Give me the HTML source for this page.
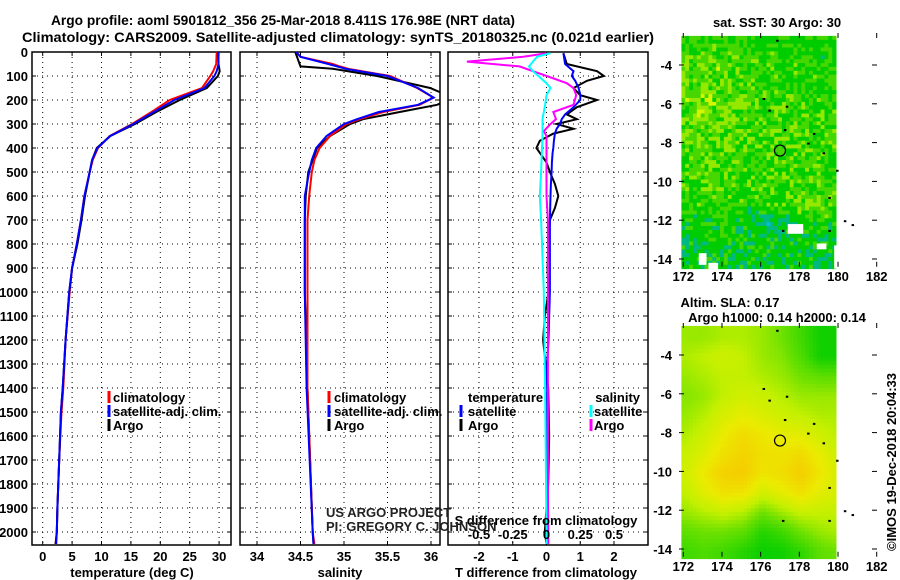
<!DOCTYPE html>
<html><head><meta charset="utf-8"><style>
body{margin:0;background:#fff;}
svg{display:block;font-family:"Liberation Sans",sans-serif;}
.b{font-weight:bold;font-size:13px;}
</style></head><body>
<svg id="c" width="900" height="580" viewBox="0 0 900 580">
<defs>
<clipPath id="cp1"><rect x="32" y="52" width="199" height="493"/></clipPath>
<clipPath id="cp2"><rect x="240" y="52" width="200" height="493"/></clipPath>
<clipPath id="cp3"><rect x="448" y="52" width="200" height="493"/></clipPath>
</defs>
<text x="283" y="25" text-anchor="middle" class="b" style="font-size:14px" textLength="464" lengthAdjust="spacingAndGlyphs">Argo profile: aoml 5901812_356 25-Mar-2018 8.411S 176.98E (NRT data)</text>
<text x="338" y="42" text-anchor="middle" class="b" style="font-size:14px" textLength="632" lengthAdjust="spacingAndGlyphs">Climatology: CARS2009. Satellite-adjusted climatology: synTS_20180325.nc (0.021d earlier)</text>
<g id="g"></g>
</svg>
<script>
// ---- data ----
const depthT = [0,50,80,100,150,200,250,300,350,400,450,500,600,700,800,900,1000,1200,1400,1500,1700,1900,2000,2050];
const tempArgo = [29.8,29.9,30.1,29.8,27.9,23.3,19.3,15.7,11.5,9.2,8.4,8.0,7.2,6.6,5.9,5.0,4.5,3.9,3.4,3.1,2.8,2.5,2.4,2.2];
const tempClim = [29.6,29.5,29.0,28.5,27.1,21.6,18.5,15.2,11.4,9.4,8.5,8.0,7.1,6.5,5.8,5.0,4.6,3.9,3.5,3.2,2.8,2.5,2.4,2.2];
const tempSat = [29.9,29.9,29.6,29.2,27.5,22.4,18.9,15.4,11.5,9.3,8.4,8.0,7.1,6.5,5.8,5.0,4.5,3.9,3.4,3.1,2.8,2.5,2.4,2.3];
const depthS = [0,20,50,60,70,100,150,190,220,250,280,300,350,400,450,500,600,700,1000,1400,2000,2050];
const salArgo = [34.44,34.46,34.49,34.50,34.87,35.38,35.99,36.25,36.07,35.64,35.22,35.07,34.84,34.69,34.64,34.59,34.56,34.55,34.55,34.58,34.64,34.65];
const salClim = [34.45,34.50,34.87,34.95,35.05,35.53,35.84,36.03,35.87,35.45,35.18,35.03,34.84,34.72,34.66,34.63,34.60,34.58,34.58,34.58,34.64,34.66];
const salSat = [34.45,34.50,34.82,34.92,35.02,35.50,35.85,36.03,35.85,35.40,35.15,35.00,34.80,34.68,34.63,34.60,34.55,34.55,34.55,34.57,34.64,34.65];
const depthD = [5,50,80,100,120,150,180,200,230,260,280,300,320,340,370,400,420,460,500,550,600,650,700,800,900,1000,1100,1200,1400,1600,1800,2000,2050];
const dTArgo = [0.5,0.6,1.5,1.7,1.2,0.8,1.0,1.5,0.9,0.6,0.9,0.3,0.8,0.2,-0.2,-0.3,-0.2,0.0,0.1,0.25,0.35,0.25,0.1,0.06,0.03,0.06,-0.05,-0.1,0.05,0.08,0.05,-0.05,0.0];
const dTSat = [0.5,0.55,0.8,0.75,0.85,0.95,1.0,1.0,0.8,0.55,0.45,0.4,0.3,0.25,0.22,0.2,0.18,0.16,0.15,0.13,0.12,0.11,0.1,0.1,0.1,0.1,0.08,0.06,-0.02,0.02,0.04,0.05,0.05];
const depthDS = [5,20,40,60,80,130,150,180,220,250,280,300,330,350,500,600,700,1000,1400,2000,2050];
const dSArgo = [0.0,-0.17,-0.59,-0.2,-0.1,0.15,0.2,0.22,0.2,0.05,0.07,0.03,-0.02,0.0,0.0,0.0,0.01,0.01,0.01,0.01,0.01];
const dSSat = [0.03,-0.07,-0.1,-0.13,-0.1,0.0,0.03,0.0,-0.01,-0.02,-0.03,-0.03,-0.03,-0.03,-0.04,-0.05,-0.04,-0.02,-0.01,0.0,0.0];
const depthTicks = [0,100,200,300,400,500,600,700,800,900,1000,1100,1200,1300,1400,1500,1600,1700,1800,1900,2000];
const tempTicks = [0,5,10,15,20,25,30];
const salTicks = [34,34.5,35,35.5,36];
const dTTicks = [-2,-1,0,1,2];
const dSTicks = [-0.5,-0.25,0,0.25,0.5];
const dSTickLabels = ['-0.5','-0.25','0','0.25','0.5'];
const latTicks = [-4,-6,-8,-10,-12,-14];
const lonTicks = [172,174,176,178,180,182];
// SLA coarse field (rows lat -3..-14, cols lon 172..180), 0=green 1=orange
const slaField = [
[0.45,0.45,0.5,0.5,0.45,0.35,0.2,0.05,0.05],
[0.5,0.55,0.6,0.55,0.45,0.4,0.25,0.05,0.05],
[0.45,0.5,0.55,0.55,0.5,0.45,0.35,0.3,0.3],
[0.4,0.45,0.55,0.62,0.58,0.52,0.45,0.45,0.45],
[0.45,0.52,0.65,0.72,0.66,0.6,0.55,0.5,0.5],
[0.5,0.6,0.75,0.85,0.78,0.72,0.7,0.6,0.52],
[0.58,0.68,0.82,0.9,0.82,0.8,0.85,0.72,0.58],
[0.62,0.78,0.92,0.94,0.8,0.84,0.94,0.78,0.62],
[0.55,0.7,0.82,0.8,0.62,0.72,0.82,0.7,0.62],
[0.45,0.52,0.58,0.52,0.35,0.47,0.58,0.57,0.55],
[0.3,0.35,0.35,0.3,0.12,0.2,0.35,0.45,0.5],
[0.2,0.25,0.2,0.12,0.03,0.05,0.15,0.3,0.35]];
// SST coarse anomaly field (rows lat -3..-14), 0=green
const sstField = [
[0.2,0.2,0.25,0.2,0.2,0.2,0.2,0.15,0.15],
[0.35,0.45,0.4,0.3,0.25,0.25,0.25,0.2,0.15],
[0.4,0.45,0.35,0.3,0.25,0.25,0.2,0.2,0.2],
[0.45,0.5,0.45,0.35,0.3,0.3,0.25,0.25,0.2],
[0.4,0.45,0.4,0.35,0.3,0.35,0.35,0.3,0.25],
[0.35,0.4,0.35,0.3,0.35,0.4,0.35,0.3,0.25],
[0.3,0.35,0.3,0.3,0.3,0.35,0.3,0.25,0.2],
[0.3,0.35,0.35,0.35,0.3,0.3,0.3,0.3,0.25],
[0.25,0.25,0.25,0.25,0.25,0.3,0.4,0.35,0.3],
[0.1,0.15,0.15,0.05,-0.1,-0.1,0.15,0.2,0.15],
[0.05,0.1,0.1,0.1,0.1,0.1,0.1,0.05,0.0],
[0.05,0.1,0.1,0.1,0.1,0.1,0.1,0.05,0.0]];

// ---- helpers ----
const NS='http://www.w3.org/2000/svg';
const G=document.getElementById('g');
function mk(tag,attrs,parent){const e=document.createElementNS(NS,tag);for(const k in attrs)e.setAttribute(k,attrs[k]);(parent||G).appendChild(e);return e;}
const yD=d=>52+d*0.24;
const xT=t=>42.7+t*5.88;
const xS=s=>257+(s-34)*87;
const xDT=t=>546.5+t*33.75;
const xDS=s=>546.5+s*135;

function panel(x0,x1,xs,xfn,name){
  const g=mk('g',{});
  
  
  depthTicks.forEach(d=>{const y=yD(d);
    mk('line',{x1:x0,x2:x1,y1:y,y2:y,stroke:'#000','stroke-width':1,'stroke-dasharray':'1 4'},g);
    mk('line',{x1:x0,x2:x0+4,y1:y,y2:y,stroke:'#000'},g);
    mk('line',{x1:x1-4,x2:x1,y1:y,y2:y,stroke:'#000'},g);});
  xs.forEach(v=>{const x=xfn(v);
    mk('line',{x1:x,x2:x,y1:52,y2:545,stroke:'#000','stroke-dasharray':'1 4'},g);
    mk('line',{x1:x,x2:x,y1:52,y2:56,stroke:'#000'},g);
    mk('line',{x1:x,x2:x,y1:541,y2:545,stroke:'#000'},g);});
  mk('rect',{x:x0,y:52,width:x1-x0,height:493,fill:'none',stroke:'#000','stroke-width':1.5},g);
  return g;
}
function line(ds,vs,xfn,color,clip,name,w){
  const p=mk('polyline',{points:ds.map((d,i)=>xfn(vs[i]).toFixed(1)+','+yD(d).toFixed(1)).join(' '),fill:'none',stroke:color,'stroke-width':w||2,'clip-path':'url(#'+clip+')'});
  
  
}
function txt(x,y,s,anchor,cls,name,extra){
  const t=mk('text',Object.assign({x:x,y:y,'text-anchor':anchor||'start','class':cls||'b'},extra||{}));
  t.textContent=s;
  
  
  return t;
}

// Panel 1
panel(32,231,tempTicks,xT,'temperature-panel');
depthTicks.forEach(d=>txt(28,yD(d)+5,String(d),'end','b','depth-tick-label'));
tempTicks.forEach(t=>txt(xT(t),561,String(t),'middle','b','temperature-tick-label'));
txt(132,577,'temperature (deg C)','middle','b','x-axis-title-temperature');
line(depthT,tempClim,xT,'#ff0000','cp1','temperature-climatology-line');
line(depthT,tempArgo,xT,'#000','cp1','temperature-argo-line');
line(depthT,tempSat,xT,'#0000ff','cp1','temperature-satellite-line');
// Panel 2
panel(240,440,salTicks,xS,'salinity-panel');
salTicks.forEach(s=>txt(xS(s),561,String(s),'middle','b','salinity-tick-label'));
txt(340,577,'salinity','middle','b','x-axis-title-salinity');
line(depthS,salArgo,xS,'#000','cp2','salinity-argo-line');
line(depthS,salClim,xS,'#ff0000','cp2','salinity-climatology-line');
line(depthS,salSat,xS,'#0000ff','cp2','salinity-satellite-line');
// Panel 3
panel(448,648,dTTicks,xDT,'difference-panel');
dTTicks.forEach(t=>txt(xDT(t),561,String(t),'middle','b','t-difference-tick-label'));
txt(546,577,'T difference from climatology','middle','b','x-axis-title-t-difference');
line(depthD,dTArgo,xDT,'#000','cp3','t-difference-argo-line');
line(depthD,dTSat,xDT,'#0000ff','cp3','t-difference-satellite-line');
line(depthDS,dSArgo,xDS,'#ff00ff','cp3','s-difference-argo-line');
line(depthDS,dSSat,xDS,'#00ffff','cp3','s-difference-satellite-line');
txt(546,525,'S difference from climatology','middle','b','s-difference-axis-title');
dSTicks.forEach((s,i)=>txt(xDS(s),539,dSTickLabels[i],'middle','b','s-difference-tick-label'));

// legends
function legItem(x,y,color,label,anchor,tx,name){
  const g=mk('g',{});
  
  
  mk('line',{x1:x,x2:x,y1:y-11,y2:y+1,stroke:color,'stroke-width':3},g);
  const t=mk('text',{x:tx,y:y,'text-anchor':anchor,'class':'b'},g);t.textContent=label;
}
[['#ff0000','climatology'],['#0000ff','satellite-adj. clim.'],['#000','Argo']].forEach((it,i)=>{
  legItem(109,402+i*14,it[0],it[1],'start',113,'legend-entry-temperature');
  legItem(329,402+i*14,it[0],it[1],'start',334,'legend-entry-salinity');
});
txt(468,402,'temperature','start','b','legend-heading-temperature');
txt(640,402,'salinity','end','b','legend-heading-salinity');
legItem(461,416,'#0000ff','satellite','start',468,'legend-entry-t-satellite');
legItem(461,430,'#000','Argo','start',468,'legend-entry-t-argo');
legItem(591,416,'#00ffff','satellite','start',594,'legend-entry-s-satellite');
legItem(591,430,'#ff00ff','Argo','start',594,'legend-entry-s-argo');
txt(326,517,'US ARGO PROJECT','start','','credit-project',{'font-size':'12.5','fill':'#222'});
txt(326,531,'PI: GREGORY C. JOHNSON','start','','credit-pi',{'font-size':'12.5','fill':'#222'});

// ---- maps ----
const lonX=l=>683.3+(l-172)*19.34;
function interp(f,lat,lon){
  let r=Math.min(Math.max(-3-lat,0),11), c=Math.min(Math.max(lon-172,0),8);
  const r0=Math.floor(r),c0=Math.floor(c),r1=Math.min(r0+1,11),c1=Math.min(c0+1,8),fr=r-r0,fc=c-c0;
  return f[r0][c0]*(1-fr)*(1-fc)+f[r0][c1]*(1-fr)*fc+f[r1][c0]*fr*(1-fc)+f[r1][c1]*fr*fc;
}
function hash(i,j){let h=(i*374761393+j*668265263)^0x5bd1e995;h=(h^(h>>>13))*1274126177;h=h^(h>>>16);return ((h>>>0)%1000)/1000;}
function sstColor(v){
  if(v<-0.25) return v<-0.5?'rgb(0,60,220)':'rgb(0,190,220)';
  if(v<-0.05) return 'rgb(0,185,130)';
  if(v<0.25) return 'rgb(0,205,0)';
  if(v<0.45) return 'rgb(70,215,0)';
  if(v<0.65) return 'rgb(150,232,0)';
  if(v<0.85) return 'rgb(215,245,0)';
  return 'rgb(240,150,0)';
}
function slaColor(v){
  const stops=[[0,[0,205,0]],[0.35,[110,225,0]],[0.55,[195,240,0]],[0.75,[235,235,0]],[1,[248,195,0]]];
  for(let k=1;k<stops.length;k++){if(v<=stops[k][0]){const a=stops[k-1],b=stops[k],t=(v-a[0])/(b[0]-a[0]);
    return 'rgb('+a[1].map((c,i)=>Math.round(c+(b[1][i]-c)*t)).join(',')+')';}}
  return 'rgb(248,195,0)';
}
function map(top,latY,name,field,kind){
  const g=mk('g',{});
  
  
  const cell=0.2, step=cell*19.34;
  for(let j=0;j<60;j++){const lat=-2.5-j*cell;
    for(let i=0;i<40;i++){const lon=171.9+i*cell;
      let v=interp(field,lat,lon);
      if(kind==='sst'){v+= (hash(i,j)-0.5)*0.5;}
      const x=lonX(lon), y=latY(lat);
      mk('rect',{x:x.toFixed(1),y:y.toFixed(1),width:(step+0.4).toFixed(1),height:(step+0.4).toFixed(1),fill:kind==='sst'?sstColor(v):slaColor(v)},g);
    }}
  if(kind==='sst'){ // white gaps
    [[177.4,-12.2,0.8,0.5],[172.8,-13.7,0.4,0.6],[178.9,-13.2,0.5,0.3],[179.8,-13.3,0.4,1.2],[173.3,-14.2,0.5,0.4]].forEach(r=>
      mk('rect',{x:lonX(r[0]),y:latY(r[1]),width:r[2]*19.34,height:r[3]*19.4,fill:'#fff'},g));
  }
  mk('rect',{x:lonX(180.05),y:top,width:40,height:240,fill:'#fff'},g);
  const bot=latY(-14.4);
  latTicks.forEach(l=>{const y=latY(l);
    mk('line',{x1:679,x2:684,y1:y,y2:y,stroke:'#000'},g);
    mk('line',{x1:872,x2:877,y1:y,y2:y,stroke:'#000'},g);
    txt(672,y+5,String(l),'end','b','latitude-tick-label');});
  lonTicks.forEach(l=>{const x=lonX(l);
    mk('line',{x1:x,x2:x,y1:top,y2:top+5,stroke:'#000'},g);
    mk('line',{x1:x,x2:x,y1:bot-5,y2:bot,stroke:'#000'},g);
    txt(x,bot+14,String(l),'middle','b','longitude-tick-label');});
  [[176.1,-5.7],[176.4,-6.3],[177.3,-6.1],[177.2,-7.3],[178.7,-7.5],[178.4,-8.0],[179.2,-8.5],[179.9,-9.4],[179.5,-10.8],[177.1,-12.5],[179.5,-12.5],[180.3,-12.0],[180.7,-12.2],[176.8,-2.7]].forEach(p=>
    mk('rect',{x:lonX(p[0]),y:latY(p[1]),width:2.5,height:2,fill:'#000'},g));
  const c=mk('circle',{cx:lonX(177.0),cy:latY(-8.41),r:5.5,fill:'none',stroke:'#000','stroke-width':1.2},g);
  
  
}
map(33,l=>65+(-4-l)*19.4,'sst-map',sstField,'sst');
map(323,l=>355+(-4-l)*19.4,'sla-map',slaField,'sla');
txt(777,27,'sat. SST: 30 Argo: 30','middle','b','sst-map-title');
txt(730,307,'Altim. SLA: 0.17','middle','b','sla-map-title');
txt(777,322,'Argo h1000: 0.14 h2000: 0.14','middle','b','sla-map-subtitle');
txt(0,0,'©IMOS 19-Dec-2018 20:04:33','middle','','copyright-stamp',{'font-size':'13','transform':'translate(896,462) rotate(-90)'});
</script>
</body></html>
